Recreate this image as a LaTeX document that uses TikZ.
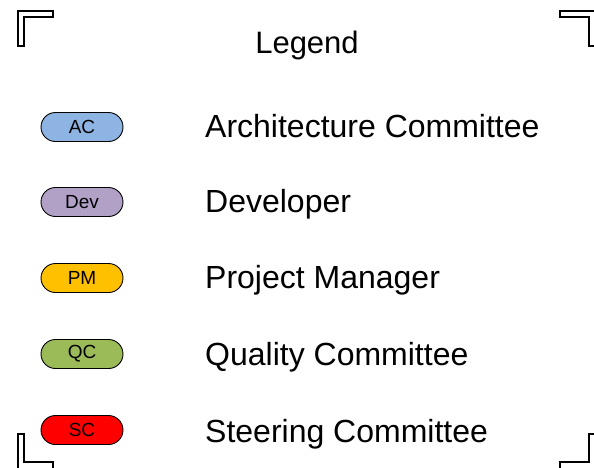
\documentclass[tikz,border=0pt]{standalone}
\usepackage{fontspec}
\setmainfont{Liberation Sans}
\usetikzlibrary{shapes.misc}
\definecolor{acblue}{RGB}{141,180,226}
\definecolor{devpurple}{RGB}{178,161,199}
\definecolor{pmorange}{RGB}{255,192,0}
\definecolor{qcgreen}{RGB}{155,187,89}
\definecolor{scred}{RGB}{255,0,0}
\begin{document}
\begin{tikzpicture}[x=1pt,y=-1pt,
  pill/.style={draw=black, line width=0.9pt, rounded rectangle, minimum width=82pt, minimum height=29pt, inner sep=0pt, font=\fontsize{19}{19}\selectfont},
  lbl/.style={anchor=base west, inner sep=0pt, font=\fontsize{32}{32}\selectfont},
  bracket/.style={draw=black, line width=1.1pt, fill=white, line join=miter}]
\useasboundingbox (0,0) rectangle (594,467);
\clip (0,0) rectangle (594,467);
\fill[white] (0,0) rectangle (594,467);
% corner brackets
\draw[bracket] (18,11) -- (53,11) -- (53,17) -- (24,17) -- (24,46) -- (18,46) -- cycle;
\draw[bracket] (560,11) -- (596,11) -- (596,46) -- (589,46) -- (589,17) -- (560,17) -- cycle;
\draw[bracket] (18,434) -- (24,434) -- (24,462) -- (53,462) -- (53,469) -- (18,469) -- cycle;
\draw[bracket] (589,434) -- (596,434) -- (596,469) -- (560,469) -- (560,462) -- (589,462) -- cycle;
% title
\node[inner sep=0pt, anchor=base, font=\fontsize{31}{31}\selectfont] (title) at (307,53) {Legend};
% pills
\node[pill, fill=acblue] (ac) at (82,127) {AC};
\node[pill, fill=devpurple] (dev) at (82,202) {Dev};
\node[pill, fill=pmorange] (pm) at (82,278) {PM};
\node[pill, fill=qcgreen] (qc) at (82,354) {QC};
\node[pill, fill=scred] (sc) at (82,430) {SC};
% labels
\node[lbl] (acl) at (205,137) {Architecture Committee};
\node[lbl] (devl) at (205,212) {Developer};
\node[lbl] (pml) at (205,288) {Project Manager};
\node[lbl] (qcl) at (205,365) {Quality Committee};
\node[lbl] (scl) at (205,442) {Steering Committee};
\end{tikzpicture}
\end{document}
